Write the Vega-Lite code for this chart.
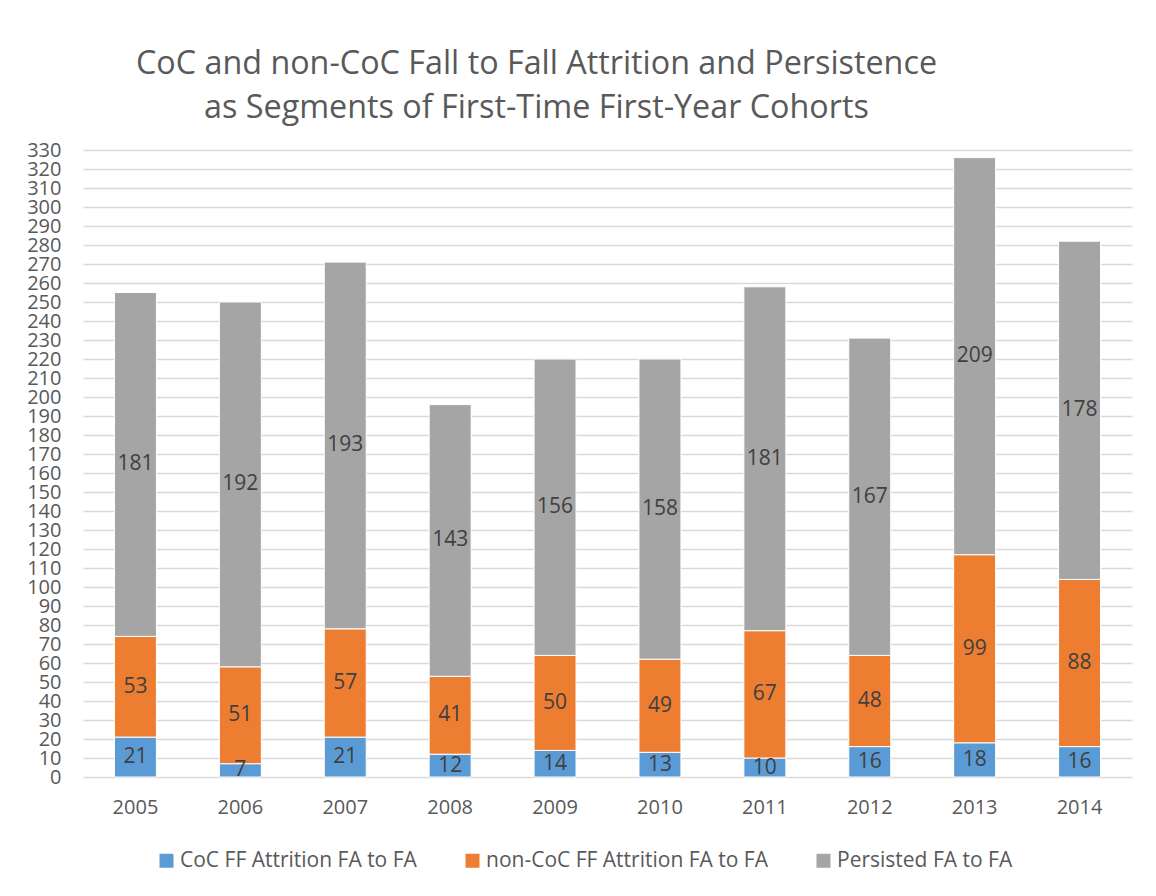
{
  "$schema": "https://vega.github.io/schema/vega-lite/v6.json",
  "width": 1049,
  "height": 627,
  "autosize": "none",
  "padding": {"left": 83, "top": 150, "right": 24, "bottom": 119},
  "background": "white",
  "config": {
    "font": "Open Sans",
    "view": {"stroke": null},
    "axisY": {
      "title": null,
      "labelOverlap": false,
      "labelFontSize": 20,
      "labelColor": "#595959",
      "labelPadding": 22,
      "labelBaseline": "middle",
      "domain": false,
      "ticks": false,
      "gridColor": "#d9d9d9",
      "gridWidth": 1.5
    }
  },
  "title": {
    "text": ["CoC and non-CoC Fall to Fall Attrition and Persistence", "as Segments of First-Time First-Year Cohorts"],
    "fontSize": 32.3,
    "fontWeight": "normal",
    "color": "#595959",
    "anchor": "middle",
    "dx": -71,
    "offset": 16,
    "lineHeight": 44
  },
  "data": {
    "values": [
      {"year": "2005", "series": "CoC FF Attrition FA to FA", "k": 1, "value": 21},
      {"year": "2005", "series": "non-CoC FF Attrition FA to FA", "k": 2, "value": 53},
      {"year": "2005", "series": "Persisted FA to FA", "k": 3, "value": 181},
      {"year": "2006", "series": "CoC FF Attrition FA to FA", "k": 1, "value": 7},
      {"year": "2006", "series": "non-CoC FF Attrition FA to FA", "k": 2, "value": 51},
      {"year": "2006", "series": "Persisted FA to FA", "k": 3, "value": 192},
      {"year": "2007", "series": "CoC FF Attrition FA to FA", "k": 1, "value": 21},
      {"year": "2007", "series": "non-CoC FF Attrition FA to FA", "k": 2, "value": 57},
      {"year": "2007", "series": "Persisted FA to FA", "k": 3, "value": 193},
      {"year": "2008", "series": "CoC FF Attrition FA to FA", "k": 1, "value": 12},
      {"year": "2008", "series": "non-CoC FF Attrition FA to FA", "k": 2, "value": 41},
      {"year": "2008", "series": "Persisted FA to FA", "k": 3, "value": 143},
      {"year": "2009", "series": "CoC FF Attrition FA to FA", "k": 1, "value": 14},
      {"year": "2009", "series": "non-CoC FF Attrition FA to FA", "k": 2, "value": 50},
      {"year": "2009", "series": "Persisted FA to FA", "k": 3, "value": 156},
      {"year": "2010", "series": "CoC FF Attrition FA to FA", "k": 1, "value": 13},
      {"year": "2010", "series": "non-CoC FF Attrition FA to FA", "k": 2, "value": 49},
      {"year": "2010", "series": "Persisted FA to FA", "k": 3, "value": 158},
      {"year": "2011", "series": "CoC FF Attrition FA to FA", "k": 1, "value": 10},
      {"year": "2011", "series": "non-CoC FF Attrition FA to FA", "k": 2, "value": 67},
      {"year": "2011", "series": "Persisted FA to FA", "k": 3, "value": 181},
      {"year": "2012", "series": "CoC FF Attrition FA to FA", "k": 1, "value": 16},
      {"year": "2012", "series": "non-CoC FF Attrition FA to FA", "k": 2, "value": 48},
      {"year": "2012", "series": "Persisted FA to FA", "k": 3, "value": 167},
      {"year": "2013", "series": "CoC FF Attrition FA to FA", "k": 1, "value": 18},
      {"year": "2013", "series": "non-CoC FF Attrition FA to FA", "k": 2, "value": 99},
      {"year": "2013", "series": "Persisted FA to FA", "k": 3, "value": 209},
      {"year": "2014", "series": "CoC FF Attrition FA to FA", "k": 1, "value": 16},
      {"year": "2014", "series": "non-CoC FF Attrition FA to FA", "k": 2, "value": 88},
      {"year": "2014", "series": "Persisted FA to FA", "k": 3, "value": 178}
    ]
  },
  "transform": [
    {"stack": "value", "groupby": ["year"], "sort": [{"field": "k", "order": "ascending"}], "as": ["y0", "y1"]},
    {"calculate": "(datum.y0 + datum.y1) / 2", "as": "mid"}
  ],
  "encoding": {
    "x": {
      "field": "year",
      "type": "ordinal",
      "scale": {"paddingInner": 0.6, "paddingOuter": 0.3},
      "axis": {
        "title": null,
        "labelAngle": 0,
        "labelFontSize": 20,
        "labelColor": "#595959",
        "labelPadding": 20,
        "domain": false,
        "ticks": false
      }
    }
  },
  "layer": [
    {
      "mark": {"type": "bar", "stroke": "white", "strokeWidth": 1},
      "encoding": {
        "y": {
          "field": "y0",
          "type": "quantitative",
          "scale": {"domain": [0, 330], "nice": false},
          "axis": {
            "values": [0, 10, 20, 30, 40, 50, 60, 70, 80, 90, 100, 110, 120, 130, 140, 150, 160, 170, 180, 190, 200, 210, 220, 230, 240, 250, 260, 270, 280, 290, 300, 310, 320, 330]
          }
        },
        "y2": {"field": "y1"},
        "color": {
          "field": "series",
          "type": "nominal",
          "scale": {
            "domain": ["CoC FF Attrition FA to FA", "non-CoC FF Attrition FA to FA", "Persisted FA to FA"],
            "range": ["#5B9BD5", "#ED7D31", "#A5A5A5"]
          },
          "legend": {
            "title": null,
            "orient": "none",
            "direction": "horizontal",
            "legendX": 73,
            "legendY": 700,
            "symbolType": "square",
            "symbolSize": 196,
            "symbolStrokeWidth": 0,
            "labelFontSize": 21,
            "labelColor": "#595959",
            "labelOffset": 3,
            "columnPadding": 45,
            "padding": 0,
            "labelLimit": 400
          }
        }
      }
    },
    {
      "mark": {"type": "text", "fontSize": 21, "color": "#404040"},
      "encoding": {
        "y": {
          "field": "mid",
          "type": "quantitative",
          "axis": {
            "values": [0, 10, 20, 30, 40, 50, 60, 70, 80, 90, 100, 110, 120, 130, 140, 150, 160, 170, 180, 190, 200, 210, 220, 230, 240, 250, 260, 270, 280, 290, 300, 310, 320, 330]
          }
        },
        "text": {"field": "value", "type": "quantitative"}
      }
    }
  ]
}
